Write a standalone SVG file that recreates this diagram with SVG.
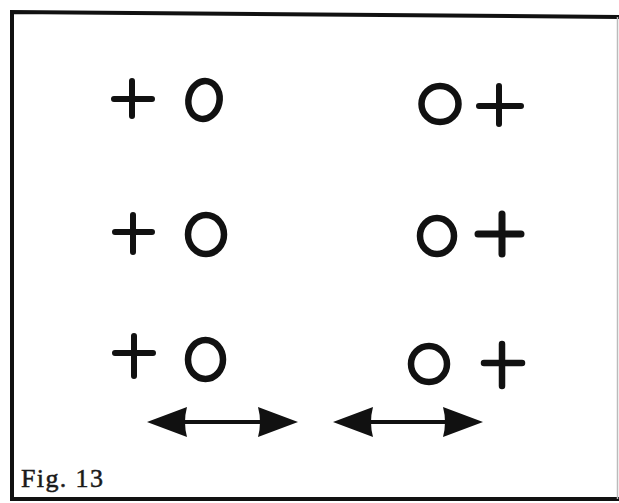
<svg xmlns="http://www.w3.org/2000/svg" width="619" height="503" viewBox="0 0 619 503">
  <style>
    .frame { fill: none; stroke: #111; stroke-width: 4; stroke-linecap: square; }
    .frame-r { fill: none; stroke: #bbb; stroke-width: 1.5; }
    .plus { fill: none; stroke: #111; stroke-width: 6; stroke-linecap: round; }
    .ring { fill: none; stroke: #111; stroke-width: 6.5; }
    .shaft { fill: none; stroke: #111; stroke-width: 4; }
    .label { font-family: "Liberation Serif", "DejaVu Serif", serif; font-size: 26px; fill: #1a1a1a; stroke: #1a1a1a; stroke-width: 0.5; }
  </style>
  <defs>
    <marker id="head" viewBox="0 0 40 30" markerWidth="40" markerHeight="30" refX="20" refY="15" orient="auto-start-reverse" markerUnits="userSpaceOnUse">
      <path d="M0,0 L40,15 L0,30 Q4,15 0,0 z" fill="#111"/>
    </marker>
  </defs>
  <rect width="619" height="503" fill="#fff"/>
  <g id="frame">
    <path class="frame" d="M619,17 L12,12 L12,499 L619,499"/>
    <line class="frame-r" x1="617.5" y1="17" x2="617.5" y2="499"/>
  </g>
  <g id="row1-left">
    <path class="plus" d="M114,99 H152 M132,81 V116"/>
    <ellipse class="ring" cx="204" cy="100" rx="15.5" ry="19" transform="rotate(12 204 100)"/>
  </g>
  <g id="row1-right">
    <ellipse class="ring" cx="440" cy="104" rx="18.5" ry="18"/>
    <path class="plus" d="M479,106 H521 M499,86 V124"/>
  </g>
  <g id="row2-left">
    <path class="plus" d="M115,232 H152 M133,215 V252"/>
    <ellipse class="ring" cx="206" cy="234.5" rx="18" ry="19.5"/>
  </g>
  <g id="row2-right">
    <ellipse class="ring" cx="437" cy="236" rx="17" ry="18"/>
    <path class="plus" style="stroke-width:7" d="M478,234 H521 M502,214 V254"/>
  </g>
  <g id="row3-left">
    <path class="plus" d="M115,353 H153 M134,336 V376"/>
    <ellipse class="ring" cx="205.5" cy="359.5" rx="17.5" ry="19.5"/>
  </g>
  <g id="row3-right">
    <ellipse class="ring" cx="429" cy="364" rx="18" ry="18"/>
    <path class="plus" style="stroke-width:6.5" d="M484,363 H522 M502,344 V386"/>
  </g>
  <g id="connectors">
    <line class="shaft" x1="167" y1="422" x2="278" y2="422" marker-start="url(#head)" marker-end="url(#head)"/>
    <line class="shaft" x1="353" y1="422" x2="463" y2="422" marker-start="url(#head)" marker-end="url(#head)"/>
  </g>
  <g id="caption">
    <text class="label" x="21" y="487" textLength="82" lengthAdjust="spacing">Fig. 13</text>
  </g>
</svg>
